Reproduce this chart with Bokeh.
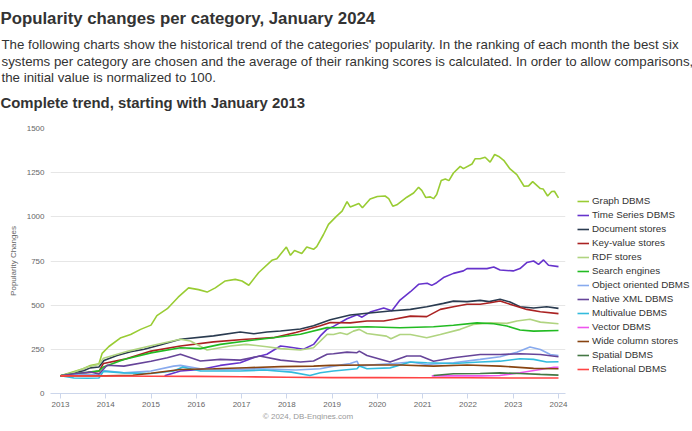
from bokeh.plotting import figure
from bokeh.models import Title, Legend, LegendItem, FixedTicker, Range1d, PrintfTickFormatter
from bokeh.embed import file_html
from bokeh.resources import INLINE

FONT = "Liberation Sans"

# ---------------- data (fractional year, normalized popularity) ----------------
graph_t = [2013.0, 2013.25, 2013.5, 2013.66, 2013.85, 2013.92, 2014.07, 2014.32, 2014.55, 2014.77, 2015.0, 2015.13,
           2015.36, 2015.6, 2015.83, 2016.05, 2016.24, 2016.42, 2016.64, 2016.86, 2017.01, 2017.16, 2017.38, 2017.67,
           2017.78, 2017.99, 2018.08, 2018.17, 2018.33, 2018.44, 2018.59, 2018.66, 2018.81, 2018.92, 2019.1, 2019.22,
           2019.33, 2019.4, 2019.59, 2019.67, 2019.84, 2020.0, 2020.17, 2020.25, 2020.34, 2020.43, 2020.65, 2020.8,
           2020.91, 2020.98, 2021.07, 2021.17, 2021.24, 2021.31, 2021.41, 2021.5, 2021.58, 2021.68, 2021.83, 2021.9,
           2022.09, 2022.16, 2022.27, 2022.38, 2022.49, 2022.59, 2022.68, 2022.79, 2022.93, 2023.08, 2023.24, 2023.34,
           2023.43, 2023.6, 2023.66, 2023.76, 2023.85, 2023.91, 2024.0]
graph_v = [100, 120, 140, 158, 168, 227, 266, 314, 334, 363, 387, 441,
           480, 545, 598, 588, 574, 598, 637, 646, 637, 613, 685, 754,
           763, 829, 782, 810, 793, 829, 816, 831, 900, 957, 1004, 1032,
           1086, 1056, 1075, 1051, 1101, 1115, 1118, 1103, 1060, 1068, 1111, 1135,
           1167, 1150, 1109, 1113, 1103, 1126, 1205, 1214, 1205, 1248, 1286, 1273,
           1299, 1329, 1329, 1337, 1310, 1353, 1342, 1320, 1271, 1239, 1173, 1175,
           1199, 1160, 1158, 1118, 1143, 1145, 1107]

ts_t = [2015.3, 2015.65, 2016.09, 2016.53, 2016.97, 2017.26, 2017.56, 2017.86, 2018.0, 2018.15, 2018.37, 2018.59,
        2018.74, 2018.89, 2019.03, 2019.33, 2019.55, 2019.66, 2019.84, 2020.14, 2020.32, 2020.5, 2020.73, 2020.91,
        2021.1, 2021.2, 2021.31, 2021.46, 2021.68, 2021.9, 2021.98, 2022.42, 2022.57, 2022.71, 2023.0, 2023.15,
        2023.3, 2023.45, 2023.56, 2023.67, 2023.78, 2024.0]
ts_v = [100, 127, 136, 159, 174, 203, 222, 269, 265, 259, 250, 278,
        326, 364, 380, 423, 446, 432, 461, 484, 469, 529, 576, 618,
        624, 612, 627, 656, 680, 694, 707, 707, 716, 699, 694, 707,
        741, 750, 731, 756, 726, 718]

doc_t = [2013.0, 2013.22, 2013.51, 2013.66, 2013.85, 2013.96, 2014.25, 2014.55, 2014.85, 2015.2, 2015.65, 2016.38,
         2016.97, 2017.27, 2017.56, 2017.86, 2018.3, 2018.59, 2018.96, 2019.4, 2019.77, 2020.28,
         2020.73, 2021.09, 2021.46, 2021.68, 2021.98, 2022.27, 2022.47, 2022.71, 2022.93, 2023.15, 2023.45, 2023.74,
         2024.0]
doc_v = [100, 113, 129, 145, 150, 187, 215, 236, 250, 275, 307, 326,
         348, 338, 348, 354, 365, 383, 417, 444, 454, 467,
         476, 491, 510, 523, 520, 527, 520, 533, 518, 491, 484, 491,
         482]

kv_t = [2013.0, 2013.3, 2013.6, 2013.85, 2013.95, 2014.4, 2015.0, 2015.65, 2016.38, 2017.1, 2017.7, 2018.2,
        2018.74, 2018.96, 2019.4, 2019.77, 2020.14, 2020.36, 2020.73, 2021.09, 2021.39,
        2021.68, 2021.98, 2022.27, 2022.49, 2022.71, 2023.0, 2023.3, 2023.6, 2024.0]
kv_v = [100, 110, 118, 125, 170, 193, 240, 269, 292, 307, 316, 345,
        383, 402, 400, 410, 410, 420, 438, 435, 476,
        491, 505, 505, 514, 524, 499, 476, 463, 452]

rdf_t = [2013.0, 2013.3, 2013.6, 2013.85, 2013.95, 2014.5, 2015.0, 2015.65, 2015.87, 2016.24, 2016.75, 2017.1,
         2017.56, 2017.86, 2018.3, 2018.59, 2018.89, 2019.03, 2019.18, 2019.33, 2019.47, 2019.6, 2019.77, 2020.2,
         2020.3, 2020.5, 2020.73, 2021.09, 2021.39, 2021.83, 2022.12, 2022.49, 2022.86, 2023.08, 2023.37, 2023.6,
         2024.0]
rdf_v = [100, 120, 150, 165, 200, 240, 270, 307, 297, 246, 269, 278,
         265, 254, 246, 259, 335, 334, 344, 334, 353, 363, 340, 325,
         310, 334, 334, 316, 334, 363, 391, 400, 397, 410, 420, 404,
         395]

se_t = [2013.0, 2013.3, 2013.6, 2013.85, 2013.95, 2014.4, 2015.0, 2015.65, 2016.09, 2016.53, 2017.1, 2017.7,
        2018.3, 2018.89, 2019.03, 2019.77, 2020.5, 2021.24, 2021.68, 2022.2, 2022.57, 2022.86, 2023.15,
        2023.45, 2024.0]
se_v = [100, 112, 120, 128, 150, 193, 230, 259, 254, 278, 297, 316,
        335, 373, 372, 378, 372, 378, 386, 400, 395, 382, 359,
        353, 357]

oo_t = [2013.0, 2013.5, 2013.85, 2013.95, 2014.4, 2015.0, 2015.5, 2015.65, 2016.09, 2016.6, 2017.4, 2018.2,
        2018.74, 2019.03, 2019.4, 2019.55, 2019.6, 2019.99, 2020.36, 2020.73, 2021.09, 2021.68, 2022.27, 2022.71,
        2023.08, 2023.37, 2023.6, 2023.82, 2024.0]
oo_v = [100, 108, 105, 130, 117, 127, 155, 159, 140, 136, 140, 133,
        140, 155, 170, 183, 155, 164, 170, 178, 164, 174, 193, 208,
        234, 263, 249, 221, 215]

xml_t = [2013.0, 2013.3, 2013.66, 2013.85, 2014.03, 2014.4, 2015.0, 2015.36, 2015.65, 2016.09, 2016.53, 2016.97,
         2017.4, 2017.86, 2018.3, 2018.59, 2018.89, 2019.03, 2019.33, 2019.55, 2019.6, 2019.77, 2020.28,
         2020.65, 2020.95, 2021.24, 2021.68, 2022.27, 2022.71, 2023.15, 2023.6, 2024.0]
xml_v = [100, 112, 122, 110, 160, 155, 183, 202, 222, 184, 193, 189,
         212, 189, 178, 184, 222, 225, 234, 231, 240, 215, 178,
         212, 212, 183, 202, 221, 221, 225, 221, 208]

mv_t = [2013.0, 2013.3, 2013.6, 2013.85, 2013.95, 2014.4, 2015.0, 2015.5, 2015.7, 2015.94, 2016.09, 2016.97,
        2017.5, 2018.1, 2018.51, 2018.74, 2019.03, 2019.55, 2019.6, 2019.77, 2020.28, 2020.73, 2021.09, 2021.68,
        2022.27, 2022.71, 2023.15, 2023.45, 2023.74, 2024.0]
mv_v = [100, 88, 86, 88, 125, 117, 113, 127, 150, 136, 127, 127,
        133, 121, 102, 117, 127, 140, 155, 140, 145, 178, 174, 170,
        178, 183, 197, 193, 178, 180]

vec_t = [2021.2, 2021.8, 2022.3, 2022.7, 2023.15, 2023.6, 2023.9, 2024.0]
vec_v = [100, 100, 100, 102, 117, 136, 149, 148]

wc_t = [2013.0, 2014.0, 2014.6, 2015.0, 2015.65, 2016.38, 2017.1, 2017.86, 2018.59, 2018.96, 2019.77, 2020.5,
        2021.24, 2021.98, 2022.71, 2023.45, 2024.0]
wc_v = [100, 100, 103, 115, 136, 140, 146, 152, 155, 159, 161, 161,
        155, 161, 155, 142, 140]

sp_t = [2021.24, 2021.68, 2022.27, 2022.71, 2023.15, 2023.6, 2024.0]
sp_v = [102, 112, 113, 117, 113, 108, 104]

rel_t = [2013.0, 2014.0, 2015.0, 2016.0, 2017.0, 2018.0, 2019.0, 2020.0, 2021.0, 2022.0, 2023.0, 2024.0]
rel_v = [100, 99, 98, 97, 95, 92, 90, 90, 89, 89, 88, 88]

series_names = ["Graph DBMS", "Time Series DBMS", "Document stores", "Key-value stores", "RDF stores",
                "Search engines", "Object oriented DBMS", "Native XML DBMS", "Multivalue DBMS", "Vector DBMS",
                "Wide column stores", "Spatial DBMS", "Relational DBMS"]
series_colors = ["#99cc33", "#6633cc", "#2a3b50", "#aa2222", "#b0d480", "#22bb22", "#88aaee", "#664499",
                 "#33bbdd", "#ee55ee", "#884411", "#447744", "#ff4444"]
series_data = [(graph_t, graph_v), (ts_t, ts_v), (doc_t, doc_v), (kv_t, kv_v), (rdf_t, rdf_v), (se_t, se_v),
               (oo_t, oo_v), (xml_t, xml_v), (mv_t, mv_v), (vec_t, vec_v), (wc_t, wc_v), (sp_t, sp_v),
               (rel_t, rel_v)]

year_ticks = list(range(2013, 2025))
y_ticks = [0, 250, 500, 750, 1000, 1250, 1500]

title_text = "Popularity changes per category, January 2024"
para_lines = ["The following charts show the historical trend of the categories' popularity. In the ranking of each month the best six",
              "systems per category are chosen and the average of their ranking scores is calculated. In order to allow comparisons,",
              "the initial value is normalized to 100."]
subtitle_text = "Complete trend, starting with January 2013"
y_label = "Popularity Changes"
credit_text = "\u00a9 2024, DB-Engines.com"

# ---------------- figure ----------------
p = figure(frame_width=515, frame_height=265, output_backend="svg", toolbar_location=None,
           x_range=Range1d(2012.78, 2024.155), y_range=Range1d(0, 1500),
           min_border_left=50, min_border_right=0, min_border_top=128, min_border_bottom=0,
           title=title_text)
p.outline_line_color = None
p.background_fill_color = "white"

p.xgrid.grid_line_color = None
p.ygrid.grid_line_color = "#e6e6e6"
p.ygrid.grid_line_width = 1

# axes
p.xaxis.ticker = FixedTicker(ticks=year_ticks)
p.xaxis.formatter = PrintfTickFormatter(format="%d")
p.xaxis.axis_line_color = "#ccd6eb"
p.xaxis.major_tick_line_color = "#ccd6eb"
p.xaxis.major_tick_in = 0
p.xaxis.major_tick_out = 5
p.xaxis.minor_tick_line_color = None
p.xaxis.minor_tick_in = 0
p.xaxis.minor_tick_out = 0
p.xaxis.major_label_text_font = FONT
p.xaxis.major_label_text_font_size = "8px"
p.xaxis.major_label_text_color = "#666666"
p.xaxis.major_label_standoff = 3

p.yaxis.ticker = FixedTicker(ticks=y_ticks)
p.yaxis.axis_line_color = None
p.yaxis.major_tick_line_color = None
p.yaxis.minor_tick_line_color = None
p.yaxis.major_tick_in = 0
p.yaxis.major_tick_out = 0
p.yaxis.minor_tick_in = 0
p.yaxis.minor_tick_out = 0
p.yaxis.major_label_text_font = FONT
p.yaxis.major_label_text_font_size = "8px"
p.yaxis.major_label_text_color = "#666666"
p.yaxis.major_label_standoff = 6
p.yaxis.axis_label = y_label
p.yaxis.axis_label_text_font = FONT
p.yaxis.axis_label_text_font_size = "8px"
p.yaxis.axis_label_text_font_style = "normal"
p.yaxis.axis_label_text_color = "#666666"
p.yaxis.axis_label_standoff = 6

# header: title on top, then paragraph lines, then subtitle (added from plot outward)
p.title.text_font = FONT
p.title.text_font_size = "16.8px"
p.title.text_font_style = "bold"
p.title.text_color = "#333333"
p.title.offset = -50
p.title.vertical_align = "top"
p.title.standoff = 14.2

sub = Title(text=subtitle_text, text_font=FONT, text_font_size="14.9px", text_font_style="bold",
            text_color="#333333", offset=-50, vertical_align="top", standoff=31.3)
p.add_layout(sub, "above")
# (standoff, vertical_align) for lines 3, 2, 1 (plot outward)
para_layout = [(-10.9, "bottom"), (6.1, "top"), (-2.9, "bottom")]
for line, (so, va) in zip(reversed(para_lines), para_layout):
    t = Title(text=line, text_font=FONT, text_font_size="13.3px", text_font_style="normal",
              text_color="#333333", offset=-49, standoff=so, vertical_align=va)
    p.add_layout(t, "above")

credit = Title(text=credit_text, text_font=FONT, text_font_size="8px", text_font_style="normal",
               text_color="#999999", align="center", standoff=0)
p.add_layout(credit, "below")

items = []
for name, color, (tt, vv) in zip(series_names, series_colors, series_data):
    r = p.line(tt, vv, line_color=color, line_width=1.6)
    items.append(LegendItem(label=name, renderers=[r]))

legend = Legend(items=items, location=(12, 19), border_line_color=None, background_fill_alpha=0,
                label_text_font=FONT, label_text_font_size="9.8px", label_text_color="#333333",
                glyph_width=12, glyph_height=10, label_height=10, label_standoff=3, spacing=3,
                padding=0, margin=6)
p.add_layout(legend, "right")

open("out.html", "w").write(file_html(p, INLINE))
